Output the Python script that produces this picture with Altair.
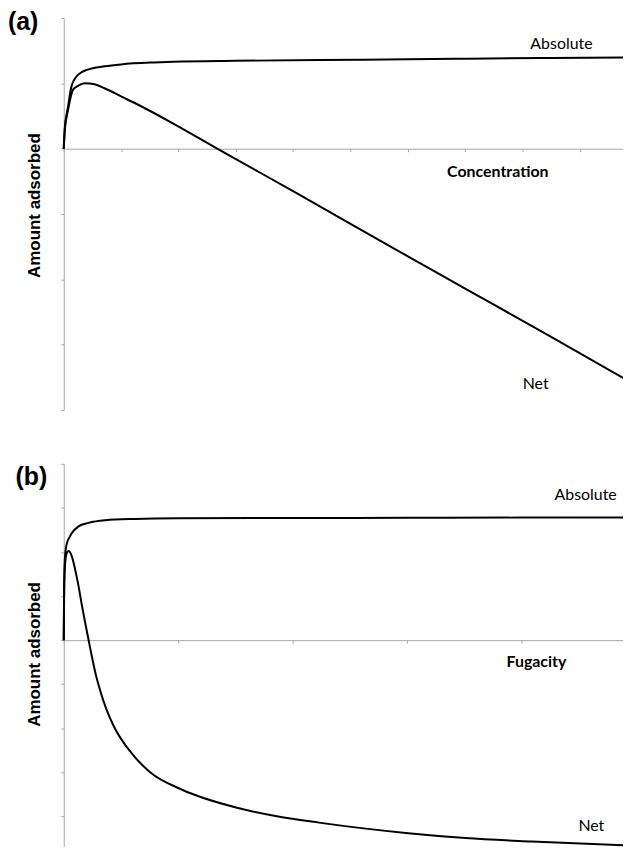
import altair as alt
import pandas as pd

# ---------------- data ----------------
# Panel (a): amount adsorbed vs concentration
conc_abs_x = [0, 0.02, 0.075, 0.134, 0.248, 0.417, 0.712, 1.0, 1.58, 1.91, 3.0, 4.44, 6.0, 7.05, 8.5, 9.84]
conc_abs_y = [0, 0.33, 0.64, 0.95, 1.13, 1.21, 1.26, 1.29, 1.32, 1.33, 1.345, 1.357, 1.368, 1.377, 1.388, 1.397]
conc_net_x = [0, 0.02, 0.075, 0.16, 0.248, 0.365, 0.538, 0.712, 1.0, 1.28, 1.91, 2.66, 4.1, 5.5, 7.0, 8.5, 9.84]
conc_net_y = [0, 0.30, 0.59, 0.90, 0.96, 1.00, 0.985, 0.925, 0.80, 0.68, 0.385, 0.01, -0.70, -1.40, -2.14, -2.88, -3.55]

# Panel (b): amount adsorbed vs fugacity
fug_abs_x = [0, 0.003, 0.007, 0.015, 0.028, 0.05, 0.071, 0.129, 0.216, 0.361, 0.62, 1.0, 2.06, 3.0, 4.0, 4.93]
fug_abs_y = [0, 0.9, 1.68, 2.0, 2.2, 2.33, 2.43, 2.58, 2.66, 2.72, 2.75, 2.765, 2.77, 2.775, 2.78, 2.78]
fug_net_x = [0, 0.004, 0.022, 0.042, 0.071, 0.1, 0.129, 0.158, 0.187, 0.216, 0.245, 0.28, 0.317, 0.37,
             0.433, 0.607, 0.752, 1.04, 1.48, 1.85, 2.23, 3.01, 3.51, 4.09, 4.93]
fug_net_y = [0, 1.31, 1.94, 2.02, 1.90, 1.60, 1.23, 0.80, 0.40, 0.02, -0.36, -0.78, -1.13, -1.55,
             -1.93, -2.61, -2.99, -3.40, -3.78, -3.99, -4.14, -4.38, -4.49, -4.57, -4.66]

conc_x_ticks = [0, 1, 2, 3, 4, 5, 6, 7, 8, 9]
conc_y_ticks = [-4, -3, -2, -1, 0, 1, 2]
fug_x_ticks = [0, 1, 2, 3, 4]
fug_y_ticks = [-4, -3, -2, -1, 0, 1, 2, 3, 4]

conc_labels = ["Absolute", "Net"]
conc_label_x = [8.68, 8.23]
conc_label_y = [1.53, -3.67]
fug_labels = ["Absolute", "Net"]
fug_label_x = [4.56, 4.61]
fug_label_y = [3.19, -4.32]

AX = "#a6a6a6"
W = 567


def panel(abs_x, abs_y, net_x, net_y, xdom, ydom, xt, yt, H, title_y,
          lab, lab_x, lab_y, xname, xname_x, xname_y, tag, tag_x, tag_y):
    df = pd.DataFrame({
        "x": abs_x + net_x,
        "y": abs_y + net_y,
        "series": ["Absolute"] * len(abs_x) + ["Net"] * len(net_x),
    })
    x_off = -H * (0 - ydom[0]) / (ydom[1] - ydom[0])
    xs = alt.X("x:Q", title=None,
               scale=alt.Scale(domain=xdom, nice=False, zero=False),
               axis=alt.Axis(values=xt, labels=False, grid=False, tickSize=3,
                             offset=x_off, domainColor=AX, tickColor=AX))
    ys = alt.Y("y:Q", title="Amount adsorbed",
               scale=alt.Scale(domain=ydom, nice=False, zero=False),
               axis=alt.Axis(values=yt, labels=False, grid=False, tickSize=3,
                             domainColor=AX, tickColor=AX,
                             titleFont="Liberation Sans", titleFontSize=17,
                             titleFontWeight="bold", titleColor="black",
                             titleAngle=270, titleX=-24, titleY=title_y,
                             titleBaseline="alphabetic", titleAlign="center"))
    lines = alt.Chart(df).mark_line(color="black", strokeWidth=2,
                                    interpolate="monotone").encode(
        x=xs, y=ys, detail="series:N", order="x:Q")
    ldf = pd.DataFrame({"x": lab_x, "y": lab_y, "label": lab})
    texts = alt.Chart(ldf).mark_text(font="Lato", fontSize=16, align="center",
                                     baseline="alphabetic", color="black").encode(
        x="x:Q", y="y:Q", text="label:N")
    ndf = pd.DataFrame({"x": [xname_x], "y": [xname_y], "label": [xname]})
    name = alt.Chart(ndf).mark_text(font="Lato", fontSize=16, fontWeight="bold",
                                    align="center", baseline="alphabetic",
                                    color="black").encode(
        x="x:Q", y="y:Q", text="label:N")
    tdf = pd.DataFrame({"label": [tag]})
    tg = alt.Chart(tdf).mark_text(font="Liberation Sans", fontSize=25,
                                  fontWeight="bold", align="left",
                                  baseline="alphabetic", color="black").encode(
        x=alt.value(tag_x), y=alt.value(tag_y), text="label:N")
    return alt.layer(lines, texts, name, tg).properties(width=W, height=H)


pa = panel(conc_abs_x, conc_abs_y, conc_net_x, conc_net_y, [0, 9.84], [-4, 2],
           conc_x_ticks, conc_y_ticks, 394, 188,
           conc_labels, conc_label_x, conc_label_y,
           "Concentration", 7.57, -0.43, "(a)", -56, 12.4)
pb = panel(fug_abs_x, fug_abs_y, fug_net_x, fug_net_y, [0, 4.93], [-4.85, 4],
           fug_x_ticks, fug_y_ticks, 392, 191,
           fug_labels, fug_label_x, fug_label_y,
           "Fugacity", 4.13, -0.61, "(b)", -48.5, 20.8)

# the figure is cropped at the right and bottom edges, as in the original
chart = alt.vconcat(pa, pb, spacing=52).properties(
    padding={"left": 0, "top": 0, "right": -9, "bottom": -9}
).configure_view(stroke=None)

chart.save("out.html", embed_options={"renderer": "svg", "actions": False})
